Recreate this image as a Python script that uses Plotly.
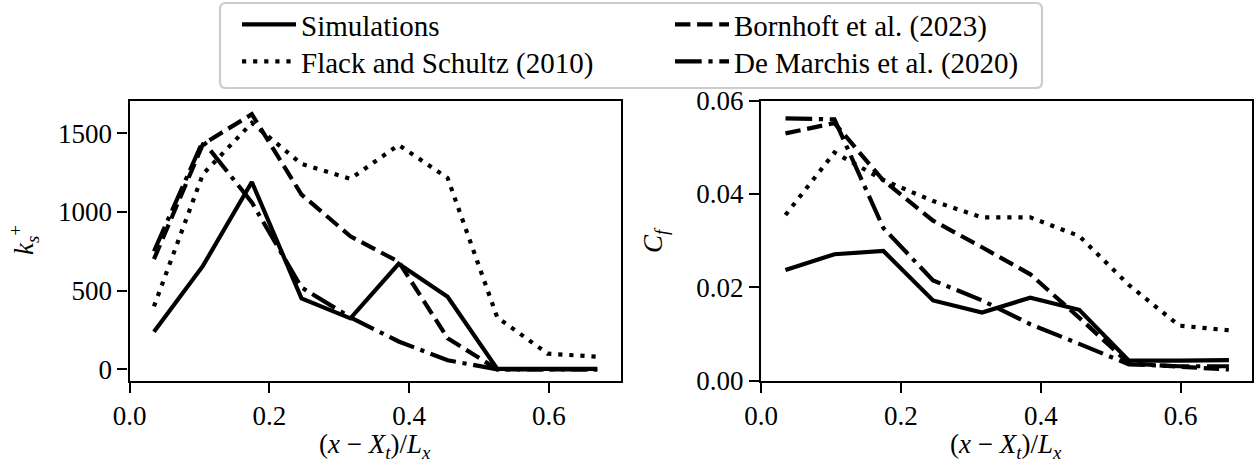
import plotly.graph_objects as go

# ---------------- data ----------------
x_pos = [0.035, 0.105, 0.175, 0.246, 0.316, 0.385, 0.455, 0.526, 0.598, 0.669]

ks_sim = [239, 657, 1190, 451, 324, 670, 461, 3, 3, 3]
ks_flack = [400, 1240, 1565, 1305, 1210, 1425, 1215, 330, 100, 80]
ks_born = [700, 1430, 1620, 1110, 845, 683, 198, 0, 0, 0]
ks_dem = [750, 1450, 1060, 520, 330, 177, 58, 0, 0, 0]

cf_sim = [0.0237, 0.0271, 0.0278, 0.0172, 0.0146, 0.0178, 0.0152, 0.0043, 0.0043, 0.0044]
cf_flack = [0.0355, 0.0489, 0.0430, 0.0385, 0.0350, 0.0350, 0.0310, 0.0205, 0.0118, 0.0108]
cf_born = [0.0530, 0.0552, 0.0429, 0.0343, 0.0286, 0.0228, 0.0135, 0.0037, 0.0030, 0.0024]
cf_dem = [0.0562, 0.0560, 0.0327, 0.0215, 0.0172, 0.0121, 0.0079, 0.0035, 0.0031, 0.0031]

names = ["Simulations", "Flack and Schultz (2010)", "Bornhoft et al. (2023)", "De Marchis et al. (2020)"]
x_ticks = [0.0, 0.2, 0.4, 0.6]
ks_ticks = [0, 500, 1000, 1500]
cf_ticks = [0.00, 0.02, 0.04, 0.06]

# ---------------- style ----------------
W, H = 1260, 472
FONT = "'Liberation Serif', 'Times New Roman', Times, 'DejaVu Serif', serif"
FS = 27
LFS = 29
LW = 4.2
DASH = {
    "Simulations": "solid",
    "Flack and Schultz (2010)": "4.2px,6.9px",
    "Bornhoft et al. (2023)": "15.4px,6.7px",
    "De Marchis et al. (2020)": "26.7px,6.7px,4.2px,6.7px",
}
# one legend box per entry so rows/columns can be placed like the reference (2x2)
LEG = {
    "Simulations": "legend",
    "Flack and Schultz (2010)": "legend2",
    "Bornhoft et al. (2023)": "legend3",
    "De Marchis et al. (2020)": "legend4",
}

fig = go.Figure()
ks_series = [ks_sim, ks_flack, ks_born, ks_dem]
cf_series = [cf_sim, cf_flack, cf_born, cf_dem]
for nm, ks, cf in zip(names, ks_series, cf_series):
    fig.add_trace(go.Scatter(x=x_pos, y=ks, mode="lines", name=nm,
                             line=dict(color="black", width=LW, dash=DASH[nm]),
                             xaxis="x", yaxis="y", legend=LEG[nm], showlegend=True))
    fig.add_trace(go.Scatter(x=x_pos, y=cf, mode="lines", name=nm,
                             line=dict(color="black", width=LW, dash=DASH[nm]),
                             xaxis="x2", yaxis="y2", showlegend=False))

def px(v):
    return v / W

def py(v):
    return 1 - v / H

ax_common = dict(showline=True, linecolor="black", linewidth=2.2, mirror=True,
                 ticks="outside", ticklen=10, tickwidth=2.2, tickcolor="black",
                 showgrid=False, zeroline=False, automargin=False,
                 tickfont=dict(family=FONT, size=FS, color="black"))

leg_common = dict(xanchor="left", yanchor="top", bgcolor="rgba(0,0,0,0)", borderwidth=0,
                  tracegroupgap=0, itemwidth=54,
                  font=dict(family=FONT, size=LFS, color="black"))

fig.update_layout(
    width=W, height=H,
    margin=dict(l=0, r=0, t=0, b=0, autoexpand=False),
    plot_bgcolor="white", paper_bgcolor="white",
    font=dict(family=FONT, size=FS, color="black"),
    xaxis=dict(domain=[px(129.5), px(621)], range=[0.0, 0.703],
               tickvals=x_ticks, tickformat=".1f", anchor="y", **ax_common),
    yaxis=dict(domain=[py(380.7), py(100.7)], range=[-72, 1706],
               tickvals=ks_ticks, anchor="x", **ax_common),
    xaxis2=dict(domain=[px(761), px(1252)], range=[0.0, 0.702],
                tickvals=x_ticks, tickformat=".1f", anchor="y2", **ax_common),
    yaxis2=dict(domain=[py(380.7), py(100.7)], range=[0, 0.06],
                tickvals=cf_ticks, tickformat=".2f", anchor="x2", **ax_common),
    legend=dict(x=px(237), y=py(-1), **leg_common),
    legend2=dict(x=px(237), y=py(36), **leg_common),
    legend3=dict(x=px(670), y=py(-1), **leg_common),
    legend4=dict(x=px(670), y=py(36), **leg_common),
)

def rounded(x0p, y0p, x1p, y1p, rp):
    return (f"M {px(x0p+rp)},{py(y0p)} L {px(x1p-rp)},{py(y0p)} "
            f"Q {px(x1p)},{py(y0p)} {px(x1p)},{py(y0p+rp)} L {px(x1p)},{py(y1p-rp)} "
            f"Q {px(x1p)},{py(y1p)} {px(x1p-rp)},{py(y1p)} L {px(x0p+rp)},{py(y1p)} "
            f"Q {px(x0p)},{py(y1p)} {px(x0p)},{py(y1p-rp)} L {px(x0p)},{py(y0p+rp)} "
            f"Q {px(x0p)},{py(y0p)} {px(x0p+rp)},{py(y0p)} Z")

fig.add_shape(type="path", xref="paper", yref="paper",
              path=rounded(220, 3, 1042, 88, 6),
              line=dict(color="#cccccc", width=2.2), fillcolor="rgba(255,255,255,0.8)",
              layer="below")

xt = "(<i>x</i> − <i>X</i><sub><i>t</i></sub>)/<i>L</i><sub><i>x</i></sub>"
fig.add_annotation(x=px(375), y=py(446), xref="paper", yref="paper", showarrow=False,
                   text=xt, font=dict(family=FONT, size=FS), xanchor="center", yanchor="middle")
fig.add_annotation(x=px(1006), y=py(446), xref="paper", yref="paper", showarrow=False,
                   text=xt, font=dict(family=FONT, size=FS), xanchor="center", yanchor="middle")
fig.add_annotation(x=px(24), y=py(240), xref="paper", yref="paper", showarrow=False,
                   text="<i>k</i><sub><i>s</i></sub><sup>+</sup>", textangle=-90,
                   font=dict(family=FONT, size=FS), xanchor="center", yanchor="middle")
fig.add_annotation(x=px(655), y=py(240), xref="paper", yref="paper", showarrow=False,
                   text="<i>C</i><sub><i>f</i></sub>", textangle=-90,
                   font=dict(family=FONT, size=FS), xanchor="center", yanchor="middle")

fig.write_html("out.html")
